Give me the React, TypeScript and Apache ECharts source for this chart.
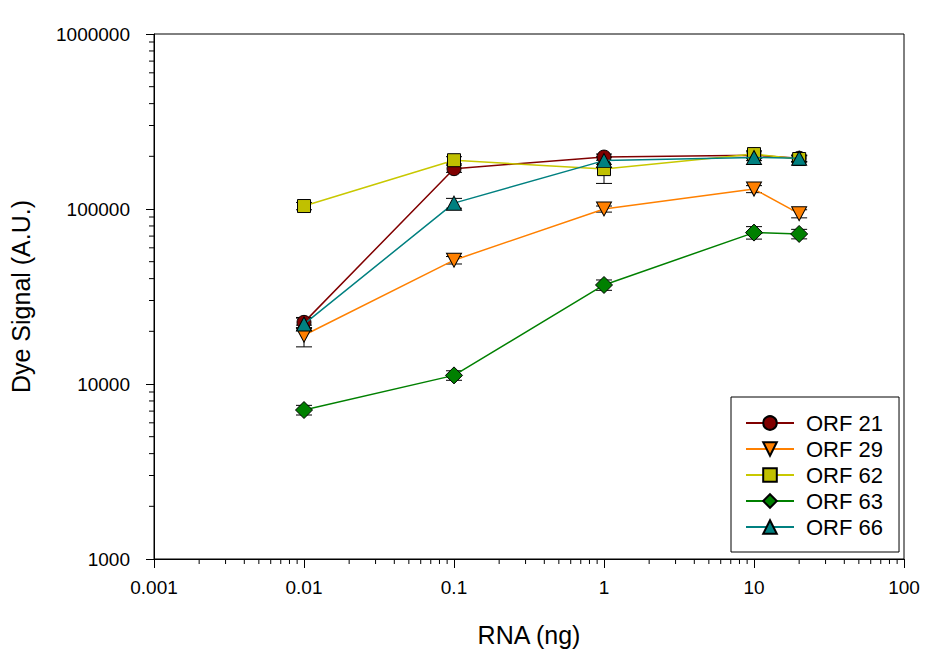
import React, { useEffect, useRef } from 'react';
import * as echarts from 'echarts';

// ---- data ----
const rna = [0.01, 0.1, 1, 10, 20];
const seriesNames = ['ORF 21', 'ORF 29', 'ORF 62', 'ORF 63', 'ORF 66'];
const orf21 = [22500, 170000, 198000, 203000, 195000];
const orf21Err = [1500, 8000, 8000, 9000, 8000];
const orf29 = [19000, 51000, 100000, 130000, 94000];
const orf29Err = [2700, 2500, 4000, 6000, 5000];
const orf62 = [104000, 190000, 169000, 206000, 193000];
const orf62Err = [5000, 9000, 29000, 9000, 8000];
const orf63 = [7100, 11200, 36800, 73300, 72000];
const orf63Err = [450, 700, 2500, 6000, 4500];
const orf66 = [22000, 108000, 189000, 197000, 195000];
const orf66Err = [1800, 7000, 9000, 8000, 8000];
const xTicks = [0.001, 0.01, 0.1, 1, 10, 100];
const yTicks = [1000, 10000, 100000, 1000000];

const lineColors = ['#800000', '#ff8000', '#c8c800', '#008000', '#008080'];
const fillColors = ['#800000', '#ff8000', '#c0c000', '#008000', '#008080'];
const symbols = ['circle', 'path://M0 0 L10 0 L5 9 Z', 'rect', 'diamond', 'triangle'];
const symbolSizes = [14, [15, 14], 13, 17, [15, 14]];

const FONT = "'Liberation Sans', Arial, Helvetica, sans-serif";

function minorOf(ticks: number[]) {
  const out: number[] = [];
  for (let i = 0; i < ticks.length - 1; i++) {
    for (let m = 2; m <= 9; m++) out.push(ticks[i] * m);
  }
  return out;
}

export default function App() {
  const ref = useRef<HTMLDivElement>(null);
  useEffect(() => {
    if (!ref.current) return;
    const chart = echarts.init(ref.current, undefined, { renderer: 'svg' });
    const values = [orf21, orf29, orf62, orf63, orf66];
    const errs = [orf21Err, orf29Err, orf62Err, orf63Err, orf66Err];
    const xMin = xTicks[0];
    const yMin = yTicks[0];

    const series: any[] = [];
    // error bars
    values.forEach((vals, si) => {
      series.push({
        type: 'custom',
        name: seriesNames[si] + ' err',
        z: 2,
        clip: false,
        data: vals.map((v, i) => [rna[i], v, v - errs[si][i], v + errs[si][i]]),
        renderItem: (params: any, api: any) => {
          const x = api.value(0);
          const lo = api.coord([x, api.value(2)]);
          const hi = api.coord([x, api.value(3)]);
          const hw = 8;
          const st = { stroke: '#000', lineWidth: 1 };
          return {
            type: 'group',
            children: [
              { type: 'line', shape: { x1: lo[0], y1: lo[1], x2: hi[0], y2: hi[1] }, style: st },
              { type: 'line', shape: { x1: lo[0] - hw, y1: lo[1], x2: lo[0] + hw, y2: lo[1] }, style: st },
              { type: 'line', shape: { x1: hi[0] - hw, y1: hi[1], x2: hi[0] + hw, y2: hi[1] }, style: st },
            ],
          };
        },
      });
    });
    // lines
    values.forEach((vals, si) => {
      series.push({
        type: 'line',
        name: seriesNames[si],
        z: 3 + si,
        data: vals.map((v, i) => [rna[i], v]),
        symbol: symbols[si],
        symbolSize: symbolSizes[si],
        showAllSymbol: true,
        lineStyle: { color: lineColors[si], width: 1.5 },
        itemStyle: { color: fillColors[si], borderColor: '#000', borderWidth: 1 },
        emphasis: { disabled: true },
      });
    });
    // minor ticks x
    series.push({
      type: 'custom',
      name: 'xminor',
      z: 10,
      clip: false,
      silent: true,
      data: minorOf(xTicks).map((v) => [v, yMin]),
      renderItem: (params: any, api: any) => {
        const p = api.coord([api.value(0), api.value(1)]);
        return { type: 'line', shape: { x1: p[0], y1: p[1], x2: p[0], y2: p[1] + 5 }, style: { stroke: '#000', lineWidth: 1 } };
      },
    });
    // minor ticks y
    series.push({
      type: 'custom',
      name: 'yminor',
      z: 10,
      clip: false,
      silent: true,
      data: minorOf(yTicks).map((v) => [xMin, v]),
      renderItem: (params: any, api: any) => {
        const p = api.coord([api.value(0), api.value(1)]);
        return { type: 'line', shape: { x1: p[0] - 5, y1: p[1], x2: p[0], y2: p[1] }, style: { stroke: '#000', lineWidth: 1 } };
      },
    });

    chart.setOption({
      animation: false,
      backgroundColor: '#fff',
      grid: { left: 154, top: 34, right: 25, bottom: 100, show: true, borderColor: '#000', borderWidth: 1, backgroundColor: 'transparent' },
      legend: {
        data: seriesNames,
        orient: 'vertical',
        left: 731,
        top: 397,
        itemWidth: 48,
        itemHeight: 17,
        itemGap: 4,
        padding: [15, 16, 14, 14],
        borderColor: '#000',
        borderWidth: 1,
        selectedMode: false,
        textStyle: { fontSize: 22, lineHeight: 20, fontFamily: FONT, color: '#000', padding: [0, 0, 0, 7] },
      },
      xAxis: {
        type: 'log',
        logBase: 10,
        min: xTicks[0],
        max: xTicks[xTicks.length - 1],
        name: 'RNA (ng)',
        nameLocation: 'middle',
        nameGap: 63,
        nameTextStyle: { fontSize: 25, fontFamily: FONT, color: '#000' },
        axisLine: { show: true, lineStyle: { color: '#000', width: 1 } },
        axisTick: { show: true, inside: false, length: 9, lineStyle: { color: '#000' } },
        splitLine: { show: false },
        minorTick: { show: false },
        axisLabel: {
          fontSize: 19,
          fontFamily: FONT,
          color: '#000',
          margin: 19,
          formatter: (v: number) => String(parseFloat(Number(v).toPrecision(6))),
        },
      },
      yAxis: {
        type: 'log',
        logBase: 10,
        min: yTicks[0],
        max: yTicks[yTicks.length - 1],
        name: 'Dye Signal (A.U.)',
        nameLocation: 'middle',
        nameGap: 121,
        nameTextStyle: { fontSize: 25, fontFamily: FONT, color: '#000' },
        axisLine: { show: true, lineStyle: { color: '#000', width: 1 } },
        axisTick: { show: true, inside: false, length: 8, lineStyle: { color: '#000' } },
        splitLine: { show: false },
        minorTick: { show: false },
        axisLabel: {
          fontSize: 19,
          fontFamily: FONT,
          color: '#000',
          margin: 24,
          formatter: (v: number) => String(Math.round(v)),
        },
      },
      series,
    });
    return () => chart.dispose();
  }, []);
  return <div ref={ref} style={{ position: 'fixed', left: 0, top: 0, width: 929, height: 659, background: '#fff' }} />;
}
